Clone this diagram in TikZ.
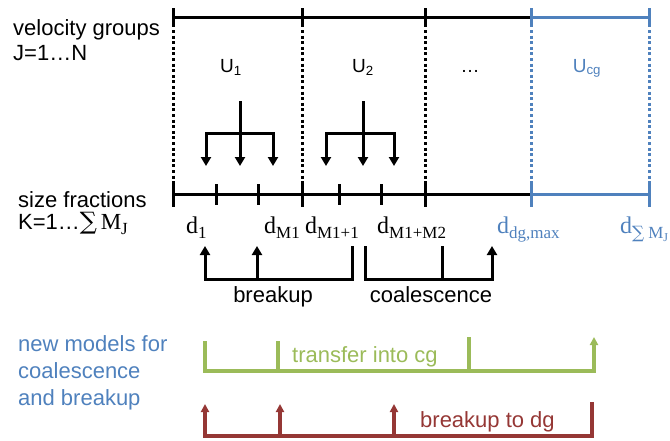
\documentclass[tikz,border=0pt]{standalone}
\usepackage{fontspec}
\setmainfont{Liberation Sans}
\newfontfamily\serifd{Liberation Serif}
\newfontfamily\symf{DejaVu Serif}
\usetikzlibrary{arrows.meta}
\definecolor{cblue}{HTML}{4F81BD}
\definecolor{cgreen}{HTML}{9BBB59}
\definecolor{cred}{HTML}{953735}
\newcommand{\subsz}[1]{\raisebox{-0.22em}{\fontsize{17}{17}\selectfont #1}}
\newcommand{\dlab}[1]{{\serifd d\subsz{#1}}}
\begin{document}
\begin{tikzpicture}[x=1pt,y=-1pt,
  txt/.style={font=\fontsize{22}{25}\selectfont, inner sep=0pt},
  ulab/.style={font=\fontsize{19}{22}\selectfont, inner sep=0pt, anchor=base},
  dl/.style={font=\fontsize{24}{26}\selectfont, inner sep=0pt, anchor=base west},
  axis/.style={line width=3pt},
  dots/.style={line width=3pt, dash pattern=on 3pt off 2.6pt},
  arr/.style={line width=3pt, -{Triangle[width=10pt,length=9pt]}},
  plain/.style={line width=3pt},
  carr/.style={line width=3.4pt, -{Triangle[width=8pt,length=8pt]}},
  cplain/.style={line width=3.4pt}
]
\useasboundingbox (0,0) rectangle (670,440);

% left texts
\node[txt, anchor=base west] (vg) at (13,35) {velocity groups};
\node[txt, anchor=base west] (jn) at (13,60) {J=1\ldots N};
\node[txt, anchor=base west] (sf) at (18,207) {size fractions};
\node[txt, anchor=base west] (kn) at (18,229) {K=1\ldots{\symf\fontsize{24}{24}\selectfont ∑}\,{\serifd\fontsize{23}{23}\selectfont M\subsz{J}}};
\node[txt, anchor=base west, text=cblue] (nm1) at (18,351) {new models for};
\node[txt, anchor=base west, text=cblue] (nm2) at (18,378) {coalescence};
\node[txt, anchor=base west, text=cblue] (nm3) at (18,405) {and breakup};

% top axis
\coordinate (t0) at (173,17);
\coordinate (t1) at (302,17);
\coordinate (t2) at (425,17);
\coordinate (t3) at (531,17);
\coordinate (t4) at (649,17);
% bottom axis
\coordinate (b0) at (173,194);
\coordinate (b1) at (302,194);
\coordinate (b2) at (425,194);
\coordinate (b3) at (531,194);
\coordinate (b4) at (649,194);
\coordinate (m1) at (216,194);
\coordinate (m2) at (258,194);
\coordinate (m3) at (339,194);
\coordinate (m4) at (381,194);

\draw[axis] (t0) -- (t3);
\draw[axis, cblue] (t3) -- (t4);
\draw[axis] (b0) -- (b3);
\draw[axis, cblue] (b3) -- (b4);

\foreach \p in {t0,t1,t2} {
  \draw[axis] ([yshift=9pt]\p) -- ([yshift=-10pt]\p);
  \draw[dots] ([yshift=-13pt]\p) -- ([yshift=13pt]\p |- b0);
}
\foreach \p in {t3,t4} {
  \draw[axis, cblue] ([yshift=9pt]\p) -- ([yshift=-10pt]\p);
  \draw[dots, cblue] ([yshift=-13pt]\p) -- ([yshift=13pt]\p |- b0);
}
\foreach \p in {b0,b1,b2} \draw[axis] ([yshift=13pt]\p) -- ([yshift=-13pt]\p);
\foreach \p in {b3,b4} \draw[axis, cblue] ([yshift=13pt]\p) -- ([yshift=-13pt]\p);
\foreach \p in {m1,m2,m3,m4} \draw[axis] ([yshift=10pt]\p) -- ([yshift=-11pt]\p);

% velocity group labels
\node[ulab] (u1) at (231,72) {U\textsubscript{1}};
\node[ulab] (u2) at (363,72) {U\textsubscript{2}};
\node[ulab] (ud) at (470,72) {\ldots};
\node[ulab, text=cblue] (ucg) at (587,72) {U\textsubscript{cg}};

% splitting arrows
\coordinate (s1) at (240,101);
\coordinate (j1) at (240,133);
\coordinate (s1l) at (206,166);
\coordinate (s1c) at (240,166);
\coordinate (s1r) at (273,166);
\draw[arr] (s1) -- (s1c);
\draw[arr] (j1) -| (s1l);
\draw[arr] (j1) -| (s1r);

\coordinate (s2) at (363,101);
\coordinate (j2) at (363,133);
\coordinate (s2l) at (326,166);
\coordinate (s2c) at (363,166);
\coordinate (s2r) at (394,166);
\draw[arr] (s2) -- (s2c);
\draw[arr] (j2) -| (s2l);
\draw[arr] (j2) -| (s2r);

% size labels
\node[dl] (d1) at (186,233) {\dlab{1}};
\node[dl] (dm1) at (264,233) {\dlab{M1}};
\node[dl, anchor=base east] (dm1p) at (359,233) {\dlab{M1+1}};
\node[dl] (dm2) at (377,233) {\dlab{M1+M2}};
\node[dl, text=cblue] (ddg) at (497,233) {\dlab{dg,max}};
\node[dl, text=cblue] (dsum) at (620,233) {{\serifd d\raisebox{-0.22em}{{\symf\fontsize{17}{17}\selectfont ∑}\,{\fontsize{17}{17}\selectfont M\raisebox{-0.2em}{\fontsize{12}{12}\selectfont J}}}}};

% breakup bracket
\coordinate (ba) at (205,246);
\coordinate (bb) at (257,246);
\coordinate (bc) at (352,246);
\coordinate (bh) at (257,279);
\coordinate (bl) at (352,279);
\draw[arr] (bc) -- (bl) -| (ba);
\draw[arr] (bh) -- (bb);
\node[txt, anchor=base] (brk) at (273,302) {breakup};

% coalescence bracket
\coordinate (ca) at (365,246);
\coordinate (cb) at (442,246);
\coordinate (cc) at (492,246);
\coordinate (cl) at (365,279);
\coordinate (ch) at (442,279);
\draw[arr] (ca) -- (cl) -| (cc);
\draw[plain] (cb) -- (ch);
\node[txt, anchor=base] (coa) at (431,302) {coalescence};

% transfer into cg (green)
\coordinate (ga) at (205,341);
\coordinate (gb) at (278,341);
\coordinate (gc) at (469,337);
\coordinate (gd) at (594,337);
\coordinate (gl) at (205,371);
\coordinate (gh1) at (278,371);
\coordinate (gh2) at (469,371);
\draw[carr, cgreen] (ga) -- (gl) -| (gd);
\draw[cplain, cgreen] (gb) -- (gh1);
\draw[cplain, cgreen] (gc) -- (gh2);
\node[txt, anchor=base west, text=cgreen] (tr) at (292,362) {transfer into cg};

% breakup to dg (red)
\coordinate (ra) at (205,404);
\coordinate (rb) at (280,404);
\coordinate (rc) at (394,404);
\coordinate (rd) at (592,402);
\coordinate (rl) at (592,436);
\coordinate (rh0) at (205,436);
\coordinate (rh1) at (280,436);
\coordinate (rh2) at (394,436);
\draw[carr, cred] (rd) -- (rl) -| (ra);
\draw[carr, cred] (rh1) -- (rb);
\draw[carr, cred] (rh2) -- (rc);
\node[txt, anchor=base west, text=cred] (btd) at (420,427) {breakup to dg};
\end{tikzpicture}
\end{document}
